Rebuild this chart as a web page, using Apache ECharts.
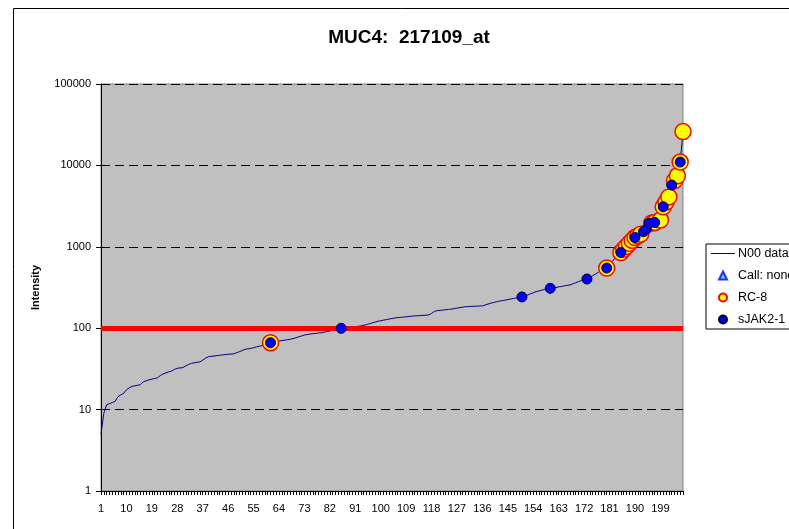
<!DOCTYPE html>
<html>
<head>
<meta charset="utf-8">
<script src="https://cdn.jsdelivr.net/npm/echarts@6/dist/echarts.min.js"></script>
<style>
html,body{margin:0;padding:0;background:#fff;}
#c{width:789px;height:529px;}
</style>
</head>
<body>
<div id="c"></div>
<script>
// Sorted intensities (N00 data), sample rank 1..207
var n00Data = [
  5, 9, 11.5, 11.8, 12.2, 12.6, 14.4, 15.2, 15.8, 17.5,
  18.5, 19.3, 19.6, 19.9, 20.3, 22, 22.6, 23.2, 23.7, 24.1,
  24.6, 26.2, 27.5, 28.3, 29.1, 29.8, 31.2, 32.2, 32.5, 32.8,
  34.5, 35.8, 37, 37.6, 38.1, 38.6, 40.5, 42.8, 44.6, 45.1,
  45.5, 46, 46.5, 47, 47.4, 47.8, 48.1, 48.4, 50, 51.5,
  53.2, 55, 55.7, 56.4, 57.6, 58.8, 60, 61, 62.8, 64.6,
  66.3, 67.5, 68.6, 69.8, 70.5, 71.3, 72.2, 73.2, 74.6, 76.3,
  78.5, 80.3, 82.4, 83.6, 84.6, 85.5, 86.3, 87.2, 88, 89.5,
  91, 92.5, 94, 95.6, 97.5, 99.6, 100.5, 101.5, 102.6, 103.6,
  104.5, 105.5, 106.5, 108.5, 111, 113.5, 116, 119, 121.5, 123.5,
  125.5, 127.5, 129.5, 131.5, 133.5, 135, 136, 137, 138, 139.5,
  140.5, 141.5, 142.3, 143, 143.8, 144.5, 145.5, 152, 161, 164,
  165.5, 167, 168.5, 170, 171.5, 174, 176.5, 179, 181.5, 183.5,
  184.5, 185.3, 186, 186.6, 187.2, 188, 193, 198, 203, 207,
  211, 215, 218, 221, 225, 228, 232, 235, 239, 242,
  249, 256, 264, 272, 281, 287, 293, 299, 305, 309,
  313, 317, 321, 326, 331, 336, 340, 351, 362, 373,
  385, 396, 402, 420, 440, 462, 485, 510, 530, 548,
  600, 665, 730, 790, 850, 930, 1010, 1100, 1200, 1300,
  1360, 1430, 1530, 1640, 1945, 1960, 1990, 2060, 2134, 3100,
  3550, 4100, 5740, 6500, 7450, 11000, 26000
];
// Ranks of samples highlighted for each group
var rc8Ranks = [61, 180, 185, 186, 187, 188, 189, 190, 191, 192, 196, 197, 199, 200, 201, 202, 204, 205, 206, 207];
var sjakRanks = [61, 86, 150, 160, 173, 180, 185, 190, 193, 194, 195, 197, 200, 203, 206];
var callNoneRanks = [];
var thresholdValue = [100];
var yTicks = [1, 10, 100, 1000, 10000, 100000];

var categories = n00Data.map(function (_, i) { return String(i + 1); });
function pts(ranks) { return ranks.map(function (r) { return [String(r), n00Data[r - 1]]; }); }

var FONT = '"Liberation Sans", Arial, sans-serif';
var chart = echarts.init(document.getElementById('c'), null, {renderer: 'canvas'});
chart.setOption({
  animation: false,
  backgroundColor: '#ffffff',
  textStyle: {fontFamily: FONT, color: '#000'},
  title: {
    text: 'MUC4:  217109_at',
    left: 404, top: 23, textAlign: 'center',
    textStyle: {fontFamily: FONT, fontSize: 19, fontWeight: 'bold', color: '#000'}
  },
  graphic: [{
    type: 'rect', silent: true, z: -10,
    shape: {x: 13.5, y: 8.5, width: 820, height: 600},
    style: {fill: null, stroke: '#000', lineWidth: 1}
  }],
  grid: {
    left: 101, right: 106, top: 84, bottom: 38,
    show: true, backgroundColor: '#C0C0C0', borderColor: '#808080', borderWidth: 1
  },
  legend: {
    orient: 'vertical', left: 706, top: 244,
    padding: [3, 5, 3, 5], itemGap: 9, itemWidth: 24, itemHeight: 8,
    symbolKeepAspect: true,
    backgroundColor: '#ffffff', borderColor: '#000', borderWidth: 1, borderRadius: 0,
    textStyle: {fontFamily: FONT, fontSize: 12.5, color: '#000', padding: [0, 0, 0, -2]},
    data: [
      {name: 'N00 data', icon: 'path://M0,0 L24,0 L24,1 L0,1 Z', itemStyle: {color: '#000080', borderWidth: 0}},
      {name: 'Call: none', icon: 'path://M4,0 L8,8 L0,8 Z'},
      {name: 'RC-8'},
      {name: 'sJAK2-1'}
    ]
  },
  xAxis: {
    type: 'category', data: categories, boundaryGap: false,
    axisLine: {show: true, lineStyle: {color: '#000', width: 1}},
    axisTick: {show: true, interval: 0, length: 4, lineStyle: {color: '#000'}},
    axisLabel: {interval: 8, margin: 12, fontFamily: FONT, fontSize: 11, color: '#000'},
    splitLine: {show: false}
  },
  yAxis: {
    type: 'log', logBase: 10, min: yTicks[0], max: yTicks[yTicks.length - 1],
    name: 'Intensity', nameLocation: 'middle', nameGap: 60, nameRotate: 90,
    nameTextStyle: {fontFamily: FONT, fontSize: 11, fontWeight: 'bold', color: '#000'},
    axisLine: {show: true, lineStyle: {color: '#000', width: 1}},
    axisTick: {show: true, length: 5, lineStyle: {color: '#000'}},
    axisLabel: {
      margin: 10, fontFamily: FONT, fontSize: 11, color: '#000',
      formatter: function (v) { return String(Math.round(v)); }
    },
    splitLine: {show: true, lineStyle: {color: '#000', type: [9, 5], width: 1}},
    minorTick: {show: false}
  },
  series: [
    {
      name: 'N00 data', type: 'line', data: n00Data, symbol: 'none', z: 2,
      lineStyle: {color: '#000080', width: 1}, itemStyle: {color: '#000080'}
    },
    {
      name: 'Call: none', type: 'scatter', data: pts(callNoneRanks), symbol: 'triangle', symbolSize: 9, z: 3,
      itemStyle: {color: '#33CCFF', borderColor: '#0000FF', borderWidth: 1}
    },
    {
      name: 'RC-8', type: 'scatter', data: pts(rc8Ranks), symbol: 'circle', symbolSize: 16, z: 4,
      itemStyle: {color: '#FFFF00', borderColor: '#FF0000', borderWidth: 1.5, opacity: 1}
    },
    {
      name: 'sJAK2-1', type: 'scatter', data: pts(sjakRanks), symbol: 'circle', symbolSize: 10, z: 5,
      itemStyle: {color: '#0000FF', borderColor: '#000033', borderWidth: 1, opacity: 1}
    },
    {
      name: 'threshold', type: 'line', data: [], z: 10, silent: true,
      markLine: {
        silent: true, symbol: ['none', 'none'], label: {show: false},
        lineStyle: {color: '#FF0000', width: 5, type: 'solid'},
        data: thresholdValue.map(function (v) { return {yAxis: v}; })
      }
    }
  ]
});
</script>
</body>
</html>
